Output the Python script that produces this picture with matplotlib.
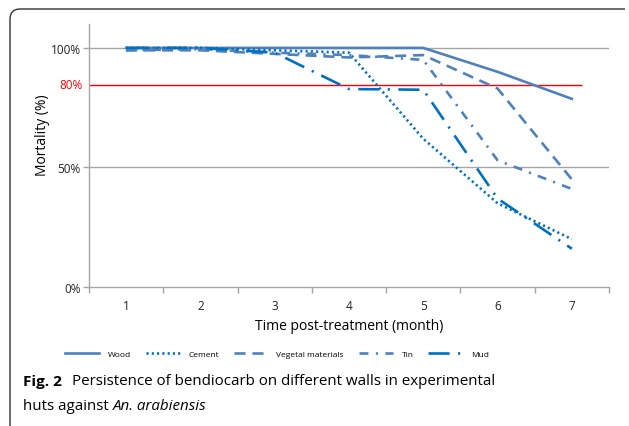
import numpy as np
import matplotlib.pyplot as plt
from matplotlib.path import Path
from matplotlib.patches import PathPatch

# data
months = [1, 2, 3, 4, 5, 6, 7]
wood = [100, 100, 100, 100, 100, 90, 78.7]
cement = [100, 100, 99, 98, 62, 35, 20]
vegetal = [99, 99, 97.5, 96, 97, 83, 45]
tin = [99, 99.5, 98, 97, 95, 53, 41]
mud = [100, 100, 98, 82.8, 82.5, 37, 16]
series_names = ['Wood', 'Cement', 'Vegetal materials', 'Tin', 'Mud']
yticks = [0, 50, 100]
ytick_labels = ['0%', '50%', '100%']
threshold_pos = 84.5   # where the red "80%" line sits on the drawn scale
threshold_label = '80%'

LIGHT = '#4f81bd'
DARK = '#0070c0'
GRAY = '#a6a6a6'

plt.rcParams['font.family'] = ['Open Sans', 'DejaVu Sans']

fig = plt.figure(figsize=(6.29, 4.27), dpi=100)
ax = fig.add_axes([89/629, 1-288/427, (609-89)/629, (288-25)/427])

lw = 1.9
ax.plot(months, wood, color=LIGHT, lw=lw, ls='-', label=series_names[0])
ax.plot(months, cement, color=DARK, lw=lw, ls=(0, (0.8, 1.2)), label=series_names[1])
ax.plot(months, vegetal, color=LIGHT, lw=lw, ls=(0, (4.2, 2.6)), label=series_names[2])
ax.plot(months, tin, color=LIGHT, lw=lw, ls=(0, (3.4, 2.8, 0.8, 2.8)), label=series_names[3])
ax.plot(months, mud, color=DARK, lw=lw, ls=(0, (8, 3.2, 0.8, 3.2)), label=series_names[4])

# gridlines and red threshold
for yv in [50, 100]:
    ax.axhline(yv, color=GRAY, lw=1.0, zorder=0)
ax.hlines(threshold_pos, 0.5, 7.13, color='red', lw=1.0, zorder=1)
ax.text(-0.012, threshold_pos, threshold_label, color='red', fontsize=8.5,
        transform=ax.get_yaxis_transform(), ha='right', va='center')

ax.set_xlim(0.5, 7.5)
ax.set_ylim(0, 110)
ax.set_yticks(yticks)
ax.set_yticklabels(ytick_labels)
ax.set_xticks(months)
ax.set_xticks(np.arange(0.5, 8, 1), minor=True)
ax.tick_params(axis='x', which='major', length=0, pad=9, labelsize=8.5, colors='#222222')
ax.tick_params(axis='x', which='minor', length=4, color=GRAY, width=1)
ax.tick_params(axis='y', length=4, width=1, labelsize=8.5, pad=2, colors='#222222')
ax.tick_params(axis='y', color=GRAY)

for s in ['top', 'right']:
    ax.spines[s].set_visible(False)
for s in ['left', 'bottom']:
    ax.spines[s].set_color(GRAY)
    ax.spines[s].set_linewidth(1.0)

ax.set_xlabel('Time post-treatment (month)', fontsize=10, labelpad=4)
ax.set_ylabel('Mortality (%)', fontsize=10)
ax.yaxis.set_label_coords(-0.075, 0.58)

fig.legend(loc='center', bbox_to_anchor=(277/629, 1-355/427), ncol=5, frameon=False,
           fontsize=6, handlelength=4.1, columnspacing=1.8, handletextpad=1.0)

# caption
cap_y1 = 1 - 382/427
cap_y2 = 1 - 407/427
fig.text(23/629, cap_y1, 'Fig. 2', fontsize=11, fontweight='bold', va='center')
fig.text(72/629, cap_y1, 'Persistence of bendiocarb on different walls in experimental',
         fontsize=10.9, va='center')
t = fig.text(23/629, cap_y2, 'huts against ', fontsize=10.9, va='center')
fig.canvas.draw()
bb = t.get_window_extent().transformed(fig.transFigure.inverted())
fig.text(bb.x1, cap_y2, 'An. arabiensis', fontsize=10.9, style='italic', va='center')

# frame around the figure (top and left edges, rounded corner)
W, H = 629, 427
verts = [(10, 427), (10, 20), (10, 10), (20, 10), (625, 10)]
codes = [Path.MOVETO, Path.LINETO, Path.CURVE3, Path.CURVE3, Path.LINETO]
verts = [(x / W, 1 - y / H) for x, y in verts]
fig.patches.append(PathPatch(Path(verts, codes), transform=fig.transFigure,
                             fill=False, edgecolor='#333333', lw=1.0))

fig.savefig('out.png', dpi=100)
